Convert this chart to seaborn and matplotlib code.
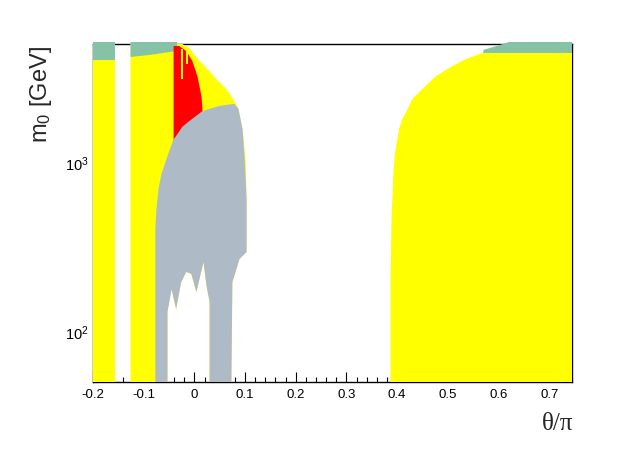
import numpy as np
import pandas as pd
import matplotlib
matplotlib.use("Agg")
import matplotlib.pyplot as plt
import matplotlib.ticker as mticker
import seaborn as sns

# ---------------- data (region outlines) ----------------
# left strip
strip_theta = [-0.200, -0.157, -0.157, -0.200]
strip_yellow_m0 = [50, 50, 4020, 4020]
strip_green_m0 = [4020, 4020, 5140, 5140]

# central yellow region (left edge, arc, then lower edge under the grey region)
yel_theta = [-0.126, -0.126, -0.024, -0.010, -0.004, 0.010, 0.026, 0.043, 0.063,
             0.079, 0.087, 0.095, 0.101, 0.103, 0.103, 0.089, 0.075, 0.073,
             0.030, 0.030, 0.024, 0.018, 0.010, 0.004, -0.006, -0.016, -0.026,
             -0.036, -0.045, -0.053, -0.053]
yel_m0 = [50, 5000, 5000, 4730, 4485, 3965, 3555, 3105, 2710,
          2300, 2065, 1570, 1045, 605, 294, 267, 195, 50,
          50, 149, 185, 256, 203, 170, 218, 224, 195,
          135, 177, 130, 50]

# green band on top of the central region
grn_theta = [-0.126, -0.089, -0.049, -0.034, -0.034, -0.126]
grn_m0 = [4190, 4305, 4485, 4545, 5140, 5140]

# red region
red_theta = [-0.041, -0.041, -0.030, -0.016, -0.004, 0.006, 0.014, 0.016, 0.016]
red_m0 = [1300, 4865, 4865, 4545, 3965, 3235, 2450, 2065, 1800]

# yellow streaks inside the red region
streak1_theta = [-0.0265, -0.0215, -0.0215, -0.0265]
streak1_m0 = [3105, 3105, 4670, 4670]
streak2_theta = [-0.017, -0.012, -0.012, -0.017]
streak2_m0 = [3800, 3800, 4600, 4600]

# grey region
gry_theta = [-0.077, -0.077, -0.075, -0.071, -0.065, -0.055, -0.041, -0.036, -0.024,
             -0.010, 0.016, 0.049, 0.072, 0.079, 0.087, 0.095, 0.099, 0.103, 0.103,
             0.089, 0.075, 0.073, 0.030, 0.030, 0.024, 0.018, 0.010, 0.004,
             -0.006, -0.016, -0.026, -0.036, -0.045, -0.053, -0.053]
gry_m0 = [50, 402, 520, 690, 851, 1045, 1370, 1427, 1615,
          1750, 2005, 2150, 2200, 2210, 2065, 1570, 1087, 605, 294,
          267, 195, 50, 50, 149, 185, 256, 203, 170,
          218, 224, 195, 135, 177, 130, 50]

# right yellow region
ryel_theta = [0.387, 0.387, 0.389, 0.393, 0.396, 0.404, 0.410, 0.418, 0.430,
              0.450, 0.477, 0.509, 0.536, 0.568, 0.745, 0.745]
ryel_m0 = [50, 203, 461, 910, 1148, 1570, 1800, 1980, 2365,
           2710, 3235, 3705, 4075, 4425, 4425, 50]

# right green band
rgrn_theta = [0.570, 0.570, 0.596, 0.621, 0.745, 0.745]
rgrn_m0 = [4425, 4610, 4865, 5140, 5140, 4425]

xticks = [-0.2, -0.1, 0.0, 0.1, 0.2, 0.3, 0.4, 0.5, 0.6, 0.7]
xtick_labels = ["-0.2", "-0.1", "0", "0.1", "0.2", "0.3", "0.4", "0.5", "0.6", "0.7"]

YELLOW = "#FFFF00"
GREEN = "#86C2A6"
RED = "#FF0000"
GREY = "#AEBBC7"

# ---------------- plotting ----------------
sns.set_theme(style="white")
plt.rcParams["font.family"] = ["Liberation Sans", "DejaVu Sans"]
plt.rcParams["mathtext.fontset"] = "custom"
plt.rcParams["mathtext.rm"] = "Liberation Sans"
plt.rcParams["mathtext.it"] = "Liberation Sans:italic"

fig = plt.figure(figsize=(6.36, 4.52), dpi=100)
ax = fig.add_axes([93 / 636, 1 - 383 / 452, (572 - 93) / 636, (383 - 45) / 452])

layers = [
    (strip_theta, strip_yellow_m0, YELLOW),
    (strip_theta, strip_green_m0, GREEN),
    (yel_theta, yel_m0, YELLOW),
    (grn_theta, grn_m0, GREEN),
    (red_theta, red_m0, RED),
    (streak1_theta, streak1_m0, YELLOW),
    (streak2_theta, streak2_m0, YELLOW),
    (gry_theta, gry_m0, GREY),
    (ryel_theta, ryel_m0, YELLOW),
    (rgrn_theta, rgrn_m0, GREEN),
]
for th, m, c in layers:
    ax.fill(th, m, color=c, lw=0, zorder=3, clip_on=False)

ax.set_yscale("log")
ax.set_xlim(-0.2, 0.745)
ax.set_ylim(50, 5000)

for s in ax.spines.values():
    s.set_color("black")
    s.set_linewidth(1.0)
    s.set_visible(True)

ax.set_xticks(xticks)
ax.set_xticklabels(xtick_labels)
ax.xaxis.set_minor_locator(mticker.MultipleLocator(0.02))
ax.tick_params(axis="x", which="major", direction="in", length=7, width=0.8,
               labelsize=9.5, pad=4, colors="black", bottom=True, top=False)
ax.tick_params(axis="x", which="minor", direction="in", length=3.5, width=0.8,
               bottom=True, top=False, colors="black")

ax.yaxis.set_major_locator(mticker.LogLocator(base=10, numticks=10))
ax.yaxis.set_minor_locator(mticker.LogLocator(base=10, subs=np.arange(2, 10), numticks=20))
ax.yaxis.set_minor_formatter(mticker.NullFormatter())
ax.tick_params(axis="y", which="major", direction="in", length=7, width=0.8,
               labelsize=10.5, pad=3, left=True, right=False, colors="black")
ax.tick_params(axis="y", which="minor", direction="in", length=3.5, width=0.8,
               left=True, right=False, colors="black")

fig.text(41 / 636, 1 - 46 / 452, r"m$_0$ [GeV]", rotation=90, ha="center", va="top",
         fontsize=17)
fig.text(573 / 636, 1 - 424 / 452, "θ/π", ha="right", va="center", fontsize=18,
         family=["Liberation Serif", "DejaVu Serif"])

fig.savefig("out.png", dpi=100, facecolor="white")
